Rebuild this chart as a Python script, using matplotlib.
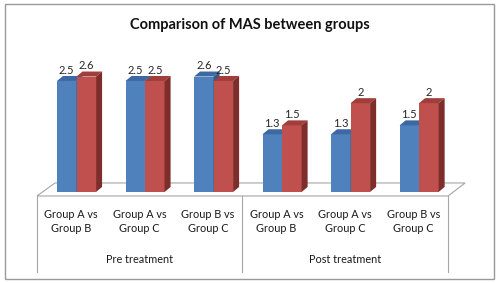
import matplotlib.pyplot as plt
from matplotlib.patches import Polygon, Rectangle

plt.rcParams['font.family'] = ['Lato', 'DejaVu Sans']

categories = ['Group A vs\nGroup B', 'Group A vs\nGroup C', 'Group B vs\nGroup C',
              'Group A vs\nGroup B', 'Group A vs\nGroup C', 'Group B vs\nGroup C']
groups = ['Pre treatment', 'Post treatment']
series_1 = [2.5, 2.5, 2.6, 1.3, 1.3, 1.5]
series_2 = [2.6, 2.5, 2.5, 1.5, 2.0, 2.0]

blue = ['#4f81bd', '#3d68a3', '#34598a']
red = ['#c0504d', '#a13d3a', '#7f2d2b']
edge = '#a6a6a6'

w = 0.285    # bar width, category units
dx = 0.088   # depth offset x
dy = 0.113   # depth offset y

fig = plt.figure(figsize=(5, 2.83), dpi=100)
ax = fig.add_axes([0, 0, 1, 1])
ax.set_xlim(-1.117, 6.181)
ax.set_ylim(-2.05, 4.324)
ax.axis('off')

# floor
ax.add_patch(Polygon([(-0.577, -0.09), (5.423, -0.09), (5.672, 0.203), (-0.314, 0.203)],
                     closed=True, facecolor='white', edgecolor=edge, lw=0.8, zorder=1))

# category box
for xv in [-0.577, 2.416, 5.423]:
    ax.plot([xv, xv], [-0.09, -1.80], color=edge, lw=0.8, zorder=1)


def bar3d(x0, h, cols):
    ax.bar(x0, h, width=w, align='edge', color=cols[0], zorder=3)
    ax.add_patch(Polygon([(x0, h), (x0 + w, h), (x0 + w + dx, h + dy), (x0 + dx, h + dy)],
                         closed=True, facecolor=cols[1], edgecolor='none', zorder=3))
    ax.add_patch(Polygon([(x0 + w, 0), (x0 + w + dx, dy), (x0 + w + dx, h + dy), (x0 + w, h)],
                         closed=True, facecolor=cols[2], edgecolor='none', zorder=3))


for i in range(len(categories)):
    x0 = i - w
    bar3d(x0, series_1[i], blue)
    bar3d(x0 + w, series_2[i], red)
    ax.text(x0 + w / 2, series_1[i] + 0.12, '%g' % series_1[i], ha='center', va='bottom',
            fontsize=8, color='#262626', zorder=5)
    ax.text(x0 + 1.5 * w, series_2[i] + 0.12, '%g' % series_2[i], ha='center', va='bottom',
            fontsize=8, color='#262626', zorder=5)
    ax.text(i - 0.08, -0.66, categories[i], ha='center', va='center', fontsize=7.8,
            color='#1a1a1a', linespacing=1.3)

for j, g in enumerate(groups):
    ax.text(0.92 + 3 * j, -1.53, g, ha='center', va='center', fontsize=7.8, color='#1a1a1a')

fig.text(0.5, 1 - 25 / 283, 'Comparison of MAS between groups', ha='center', va='center',
         fontsize=10.5, fontweight='bold', color='#111111')

fig.patches.append(Rectangle((5 / 500, 4 / 283), 489 / 500, 275 / 283, transform=fig.transFigure,
                             fill=False, edgecolor='#999999', lw=1))

fig.savefig('out.png', dpi=100)
